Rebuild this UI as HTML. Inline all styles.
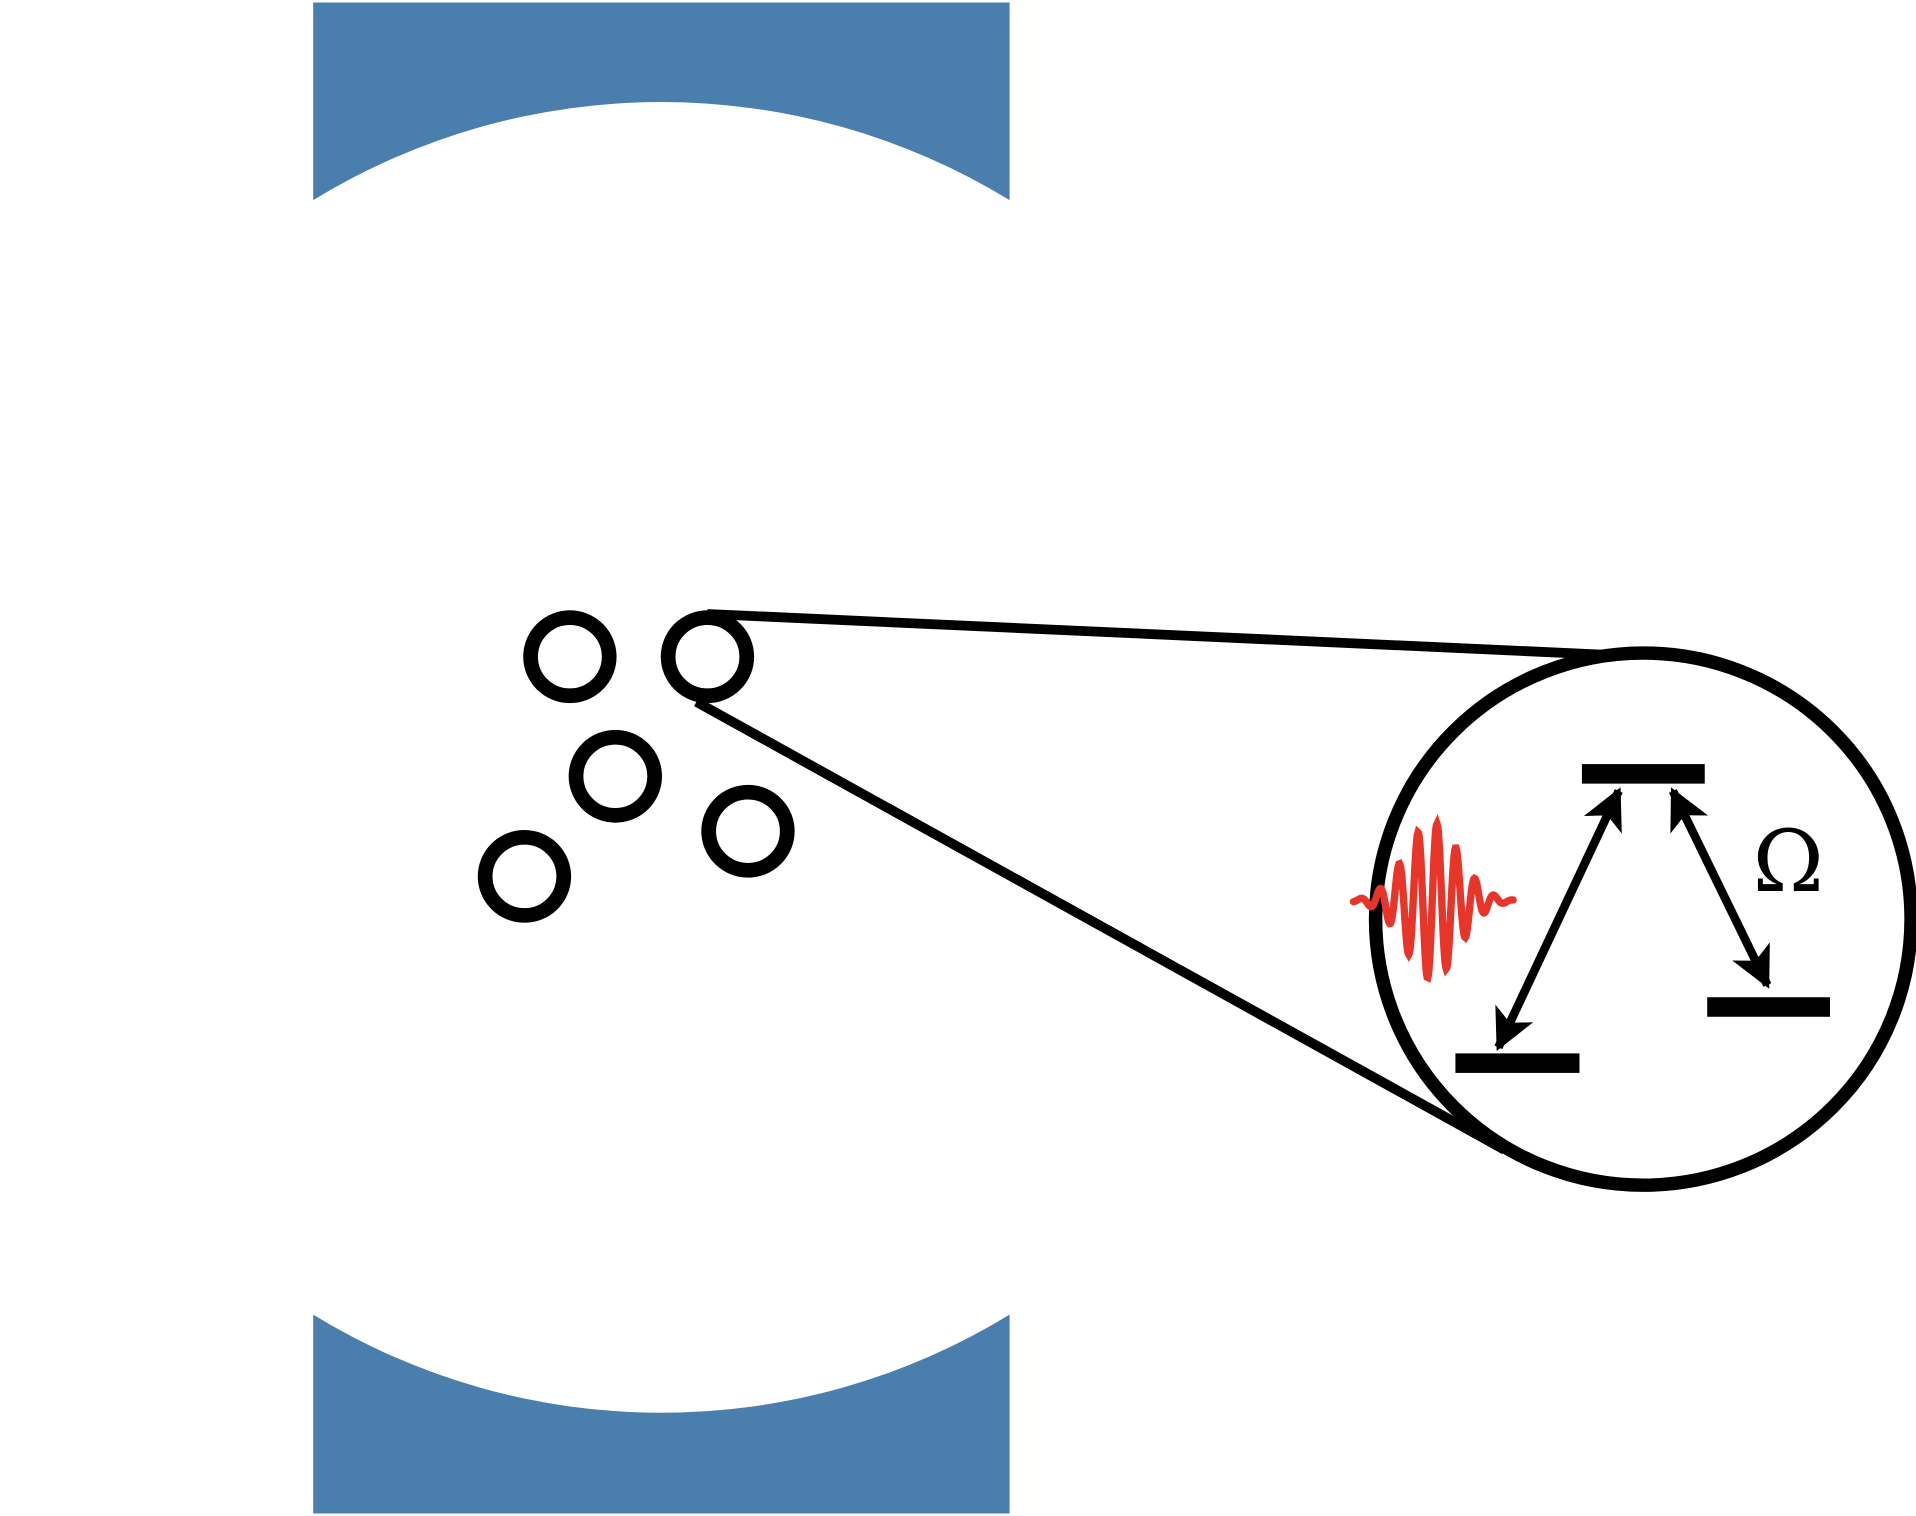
<!DOCTYPE html>
<html><head><meta charset="utf-8"><style>html,body{margin:0;padding:0;background:#fff;overflow:hidden}svg{display:block}</style></head>
<body>
<svg width="1916" height="1516" viewBox="0 0 1560 1242" preserveAspectRatio="none" xmlns="http://www.w3.org/2000/svg">
<defs>
<marker id="ah" viewBox="0 0 10 10" refX="9" refY="5" markerWidth="38" markerHeight="34" markerUnits="userSpaceOnUse" orient="auto-start-reverse"><path d="M0,0 L10,5 L0,10 L2.5,5 Z" fill="#000"/></marker>
</defs>
<path d="M255,2 H822 V164 A540,540 0 0 0 255,164 Z" fill="#4a7fad"/>
<path d="M255,1240 H822 V1077 A540,540 0 0 1 255,1077 Z" fill="#4a7fad"/>
<g fill="none" stroke="#000" stroke-width="12">
<circle cx="464" cy="538" r="32"/>
<circle cx="576" cy="538" r="32"/>
<circle cx="501" cy="636" r="32"/>
<circle cx="609" cy="681" r="32"/>
<circle cx="427" cy="718" r="32"/>
</g>
<line x1="576" y1="503" x2="1320" y2="537" stroke="#000" stroke-width="8"/>
<line x1="567" y1="575" x2="1225" y2="942" stroke="#000" stroke-width="8"/>
<circle cx="1338" cy="753" r="218" fill="#fff" stroke="#000" stroke-width="11"/>
<rect x="1288" y="626" width="100" height="16" fill="#000"/>
<rect x="1185" y="863" width="101" height="16" fill="#000"/>
<rect x="1390" y="817" width="100" height="16" fill="#000"/>
<line x1="1318" y1="648" x2="1220" y2="858" stroke="#000" stroke-width="7" marker-start="url(#ah)" marker-end="url(#ah)"/>
<line x1="1362" y1="648" x2="1439" y2="807" stroke="#000" stroke-width="7" marker-start="url(#ah)" marker-end="url(#ah)"/>
<text x="1456" y="730" font-family="DejaVu Serif, serif" font-size="70" text-anchor="middle" fill="#000">Ω</text>
<path id="wave" fill="none" stroke="#e8352a" stroke-width="6" stroke-linecap="round"/>
</svg>
<script>
var d='';
for(var x=1102;x<=1232;x+=0.5){var u=x-1166;var y=738-64*Math.exp(-u*u/(2*22*22))*Math.cos(2*Math.PI*(x-1170)/15.5);d+=(d?'L':'M')+x+','+y.toFixed(2);}
document.getElementById('wave').setAttribute('d',d);
</script>
</body></html>
